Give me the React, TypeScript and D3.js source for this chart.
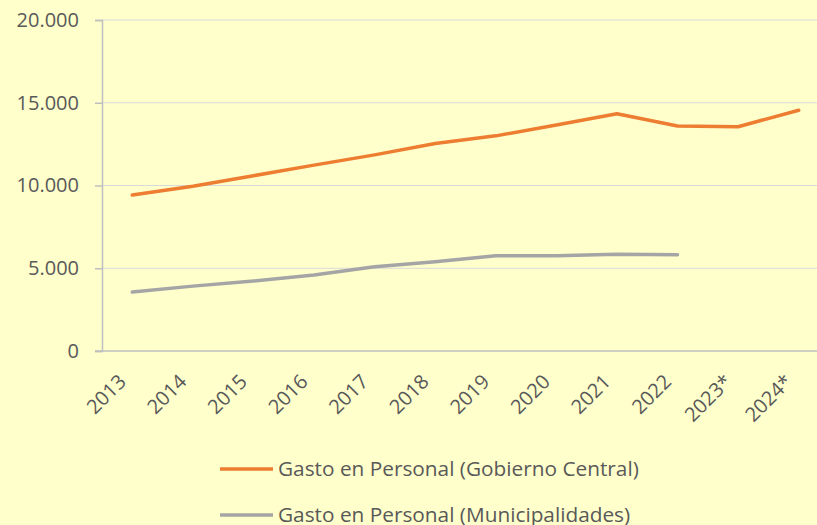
import { useEffect, useRef } from "react";
import * as d3 from "d3";

// categories (years) and series values
const years = ["2013", "2014", "2015", "2016", "2017", "2018", "2019", "2020", "2021", "2022", "2023*", "2024*"];
const gobiernoCentral = [9420, 9960, 10590, 11230, 11850, 12540, 13000, 13650, 14330, 13590, 13550, 14550];
const municipalidades = [3560, 3920, 4230, 4590, 5090, 5390, 5755, 5755, 5840, 5815, null, null];
const yTicks = [0, 5000, 10000, 15000, 20000];
const seriesNames = ["Gasto en Personal (Gobierno Central)", "Gasto en Personal (Municipalidades)"];
const seriesColors = ["#ED7D31", "#A5A5A5"];

const W = 817;
const H = 525;
const FONT = "'Open Sans', 'Liberation Sans', sans-serif";

export default function App() {
  const ref = useRef<SVGSVGElement | null>(null);

  useEffect(() => {
    const svg = d3.select(ref.current);
    svg.selectAll("*").remove();

    const left = 102;
    const right = 829;
    const top = 20;
    const bottom = 351;

    svg.append("rect").attr("width", W).attr("height", H).attr("fill", "#FFFFCC");

    const x = d3.scaleBand<string>().domain(years).range([left, right]);
    const y = d3.scaleLinear().domain([0, 20000]).range([bottom, top]);

    // gridlines
    svg
      .append("g")
      .selectAll("line")
      .data(yTicks.filter((t) => t > 0))
      .join("line")
      .attr("x1", left)
      .attr("x2", right)
      .attr("y1", (d) => y(d))
      .attr("y2", (d) => y(d))
      .attr("stroke", "#D9D9D9")
      .attr("stroke-width", 1);

    // y axis
    const yAxis = d3
      .axisLeft(y)
      .tickValues(yTicks)
      .tickSize(7)
      .tickPadding(16)
      .tickFormat((d) => d3.format(",")(d as number).replace(/,/g, "."));
    const gy = svg.append("g").attr("transform", `translate(${left},0)`).call(yAxis);
    gy.select(".domain").attr("stroke", "#BFBFBF").attr("stroke-width", 1.5);
    gy.selectAll(".tick line").attr("stroke", "#BFBFBF").attr("stroke-width", 1.5);
    gy.selectAll("text").attr("fill", "#595959").attr("font-size", 20).attr("font-family", FONT);

    // x axis line
    svg
      .append("line")
      .attr("x1", left - 7)
      .attr("x2", right)
      .attr("y1", bottom)
      .attr("y2", bottom)
      .attr("stroke", "#BFBFBF")
      .attr("stroke-width", 1.5);

    // x labels rotated
    svg
      .append("g")
      .selectAll("text")
      .data(years)
      .join("text")
      .attr("transform", (d) => `translate(${x(d)! + x.bandwidth() / 2 - 10},${bottom + 27}) rotate(-45)`)
      .attr("text-anchor", "end")
      .attr("dy", "0.35em")
      .attr("fill", "#595959")
      .attr("font-size", 20)
      .attr("font-family", FONT)
      .text((d) => d);

    const line = d3
      .line<number | null>()
      .defined((d) => d !== null)
      .x((_, i) => x(years[i])! + x.bandwidth() / 2)
      .y((d) => y(d as number));

    [gobiernoCentral, municipalidades].forEach((s, i) => {
      svg
        .append("path")
        .datum(s)
        .attr("d", line)
        .attr("fill", "none")
        .attr("stroke", seriesColors[i])
        .attr("stroke-width", 3.5)
        .attr("stroke-linecap", "round")
        .attr("stroke-linejoin", "round");
    });

    // legend
    const lg = svg
      .append("g")
      .selectAll("g")
      .data(seriesNames)
      .join("g")
      .attr("transform", (_, i) => `translate(220,${469 + i * 46})`);
    lg.append("line")
      .attr("x1", 0)
      .attr("x2", 53)
      .attr("stroke", (_, i) => seriesColors[i])
      .attr("stroke-width", 3.5);
    lg.append("text")
      .attr("x", 58)
      .attr("dy", "0.35em")
      .attr("fill", "#595959")
      .attr("font-size", 20.8)
      .attr("font-family", FONT)
      .text((d) => d);
  }, []);

  return (
    <div style={{ position: "fixed", left: 0, top: 0 }}>
      <svg ref={ref} width={W} height={H} style={{ display: "block" }} />
    </div>
  );
}
